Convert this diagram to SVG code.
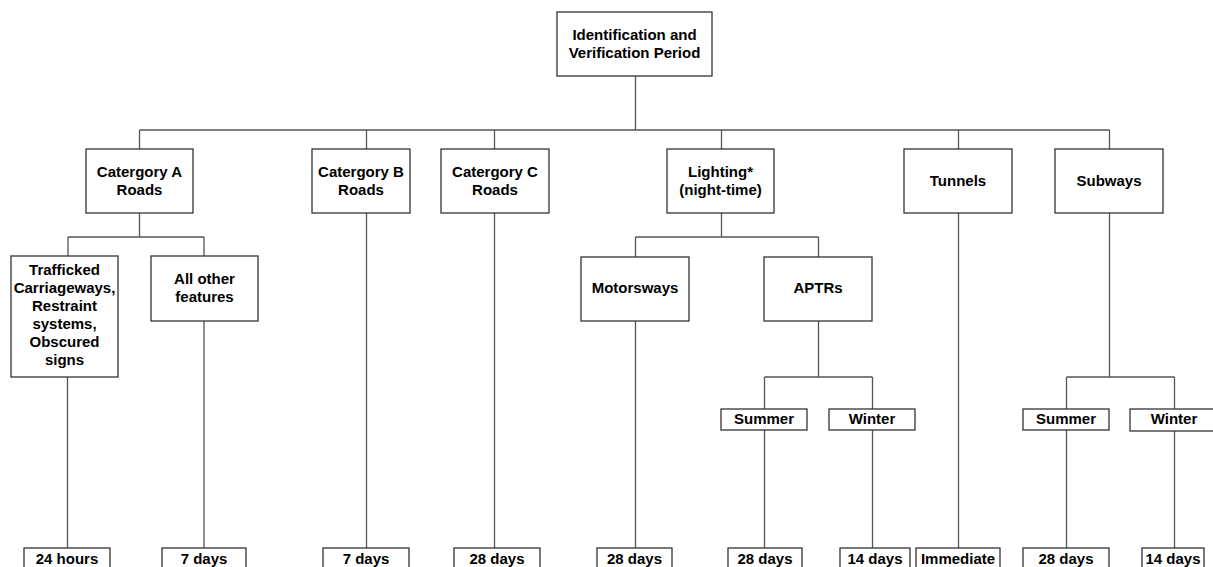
<svg xmlns="http://www.w3.org/2000/svg" width="1213" height="567" viewBox="0 0 1213 567">
<style>
.b{fill:#fff;stroke:#333;stroke-width:1.3}
.t{font-family:"Liberation Sans",Arial,sans-serif;font-weight:bold;font-size:15px;fill:#000;text-anchor:middle}
.s{font-family:"Liberation Sans",Arial,sans-serif;font-weight:bold;font-size:15px;fill:#000;text-anchor:middle}
.c{fill:none;stroke:#555;stroke-width:1.3}
</style>
<rect width="1213" height="567" fill="#fff"/>
<g id="connectors" class="c">
<path d="M635.5 76V130M139.5 130H1109.5M139.5 130V149M366.5 130V149M494.5 130V149M721.5 130V149M958.5 130V149M1109.5 130V149"/>
<path d="M139.5 213V237M68 237H204M68 237V256M204 237V256M67.5 377V548M204 321V548"/>
<path d="M366.5 213V548M494.5 213V548"/>
<path d="M721.5 213V237M635.5 237H818.5M635.5 237V257M818.5 237V257M635.5 321V548"/>
<path d="M818.5 321V377M764.5 377H872.5M764.5 377V409M872.5 377V409M764.5 430V548M872.5 430V548"/>
<path d="M958.5 213V548"/>
<path d="M1109.5 213V377M1066.5 377H1174.5M1066.5 377V409M1174.5 377V409M1066.5 430V548M1174.5 431V548"/>
</g>
<g id="root"><rect class="b" x="557" y="12" width="155" height="64"/><text class="t" x="634.5" y="40">Identification and</text><text class="t" x="634.5" y="58">Verification Period</text></g>
<g id="catA"><rect class="b" x="86" y="149" width="107" height="64"/><text class="t" x="139.5" y="177">Catergory A</text><text class="t" x="139.5" y="195">Roads</text></g>
<g id="catB"><rect class="b" x="312" y="149" width="98" height="64"/><text class="t" x="361" y="177">Catergory B</text><text class="t" x="361" y="195">Roads</text></g>
<g id="catC"><rect class="b" x="441" y="149" width="108" height="64"/><text class="t" x="495" y="177">Catergory C</text><text class="t" x="495" y="195">Roads</text></g>
<g id="lighting"><rect class="b" x="667" y="149" width="107" height="64"/><text class="t" x="720.5" y="177">Lighting*</text><text class="t" x="720.5" y="195">(night-time)</text></g>
<g id="tunnels"><rect class="b" x="904" y="149" width="108" height="64"/><text class="t" x="958" y="186">Tunnels</text></g>
<g id="subways"><rect class="b" x="1055" y="149" width="108" height="64"/><text class="t" x="1109" y="186">Subways</text></g>
<g id="trafficked"><rect class="b" x="11" y="256" width="107" height="121"/><text class="t" x="64.5" y="275">Trafficked</text><text class="t" x="64.5" y="293">Carriageways,</text><text class="t" x="64.5" y="311">Restraint</text><text class="t" x="64.5" y="329">systems,</text><text class="t" x="64.5" y="347">Obscured</text><text class="t" x="64.5" y="365">signs</text></g>
<g id="allother"><rect class="b" x="151" y="256" width="107" height="65"/><text class="t" x="204.5" y="284">All other</text><text class="t" x="204.5" y="302">features</text></g>
<g id="motorways"><rect class="b" x="581" y="257" width="108" height="64"/><text class="t" x="635" y="293">Motorsways</text></g>
<g id="aptrs"><rect class="b" x="764" y="257" width="108" height="64"/><text class="t" x="818" y="293">APTRs</text></g>
<g id="summer1"><rect class="b" x="721" y="409" width="86" height="21"/><text class="t" x="764" y="424">Summer</text></g>
<g id="winter1"><rect class="b" x="829" y="409" width="86" height="21"/><text class="t" x="872" y="424">Winter</text></g>
<g id="summer2"><rect class="b" x="1023" y="409" width="86" height="21"/><text class="t" x="1066" y="424">Summer</text></g>
<g id="winter2"><rect class="b" x="1130" y="409" width="90" height="22"/><text class="t" x="1174" y="424">Winter</text></g>
<g id="r1"><rect class="b" x="24" y="548" width="86" height="26"/><text class="s" x="67" y="564">24 hours</text></g>
<g id="r2"><rect class="b" x="162" y="548" width="84" height="26"/><text class="s" x="204" y="564">7 days</text></g>
<g id="r3"><rect class="b" x="323" y="548" width="86" height="26"/><text class="s" x="366" y="564">7 days</text></g>
<g id="r4"><rect class="b" x="454" y="548" width="86" height="26"/><text class="s" x="497" y="564">28 days</text></g>
<g id="r5"><rect class="b" x="597" y="548" width="75" height="26"/><text class="s" x="634.5" y="564">28 days</text></g>
<g id="r6"><rect class="b" x="728" y="548" width="74" height="26"/><text class="s" x="765" y="564">28 days</text></g>
<g id="r7"><rect class="b" x="840" y="548" width="70" height="26"/><text class="s" x="875" y="564">14 days</text></g>
<g id="r8"><rect class="b" x="916" y="548" width="84" height="26"/><text class="s" x="958" y="564">Immediate</text></g>
<g id="r9"><rect class="b" x="1023" y="548" width="86" height="26"/><text class="s" x="1066" y="564">28 days</text></g>
<g id="r10"><rect class="b" x="1142" y="548" width="62" height="26"/><text class="s" x="1173" y="564">14 days</text></g>
</svg>
